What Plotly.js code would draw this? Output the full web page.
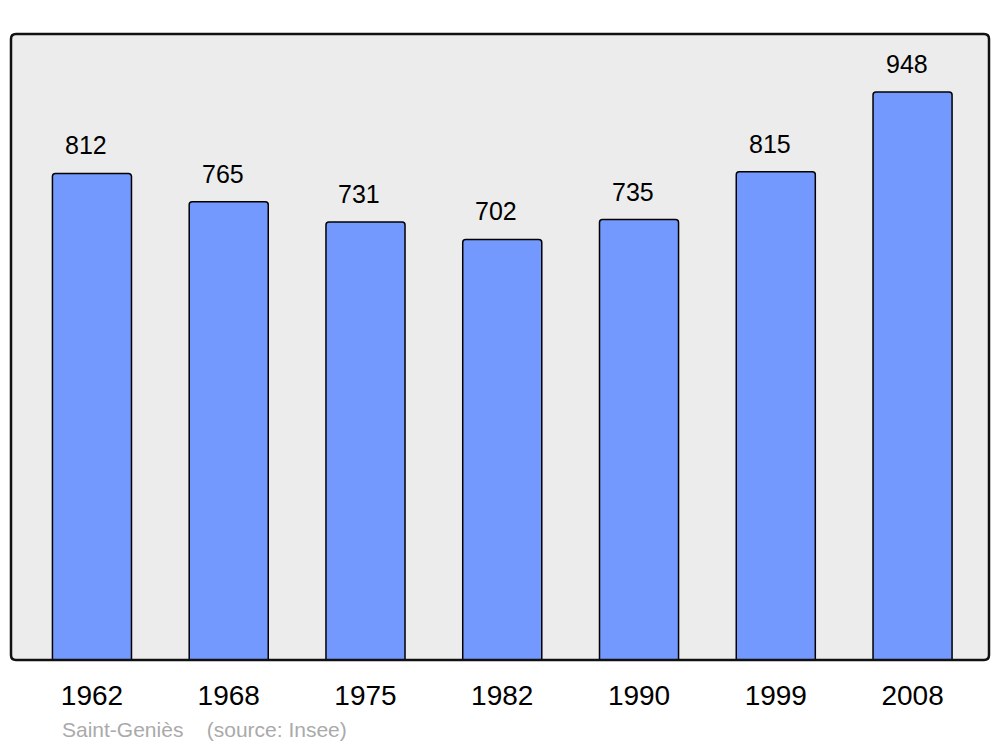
<!DOCTYPE html>
<html><head><meta charset="utf-8">
<script src="https://cdn.plot.ly/plotly-3.0.1.min.js"></script>
<style>html,body{margin:0;padding:0;background:#fff}</style>
</head><body>
<div id="chart" style="width:1000px;height:747px"></div>
<script>
const years = ["1962","1968","1975","1982","1990","1999","2008"];
const population = [812,765,731,702,735,815,948];
const footerText = "Saint-Geniès    (source: Insee)";

const W = 978, H = 626, r = 5;
const rx = r / W, ry = r / H;
const framePath = `M ${rx},0 L ${1-rx},0 Q 1,0 1,${ry} L 1,${1-ry} Q 1,1 ${1-rx},1 L ${rx},1 Q 0,1 0,${1-ry} L 0,${ry} Q 0,0 ${rx},0 Z`;

const trace = {
  type: 'bar', x: years, y: population, width: 0.578,
  marker: {color: 'rgb(115,153,255)', line: {color: '#000', width: 1.5}, cornerradius: 3},
  hoverinfo: 'none'
};

const annotations = years.map((yr, i) => ({
  x: i, y: population[i], xref: 'x', yref: 'y', text: String(population[i]),
  showarrow: false, yanchor: 'bottom', yshift: 12, xshift: -6,
  font: {family: 'Liberation Sans, Arial, sans-serif', size: 25, color: '#000'}
}));
annotations.push({
  x: 49/978, y: -69/626, xref: 'paper', yref: 'paper', xanchor: 'left', yanchor: 'middle',
  text: footerText, showarrow: false,
  font: {family: 'Liberation Sans, Arial, sans-serif', size: 21, color: '#aaaaaa'}
});

const layout = {
  width: 1000, height: 747,
  margin: {l: 11, r: 11, t: 34, b: 87},
  paper_bgcolor: '#ffffff', plot_bgcolor: '#ececec',
  showlegend: false,
  xaxis: {type: 'category', range: [-0.592, 6.559], showgrid: false, zeroline: false, showline: false,
    ticks: '', ticklabelstandoff: 16,
    tickfont: {family: 'Liberation Sans, Arial, sans-serif', size: 28, color: '#000'}},
  yaxis: {range: [0, 1044.8], showgrid: false, zeroline: false, showline: false, showticklabels: false, ticks: ''},
  annotations: annotations,
  shapes: [{type: 'path', xref: 'paper', yref: 'paper', path: framePath, line: {color: '#111', width: 2.5}, layer: 'above'}]
};
Plotly.newPlot('chart', [trace], layout, {staticPlot: true, displayModeBar: false});
</script>
</body></html>
